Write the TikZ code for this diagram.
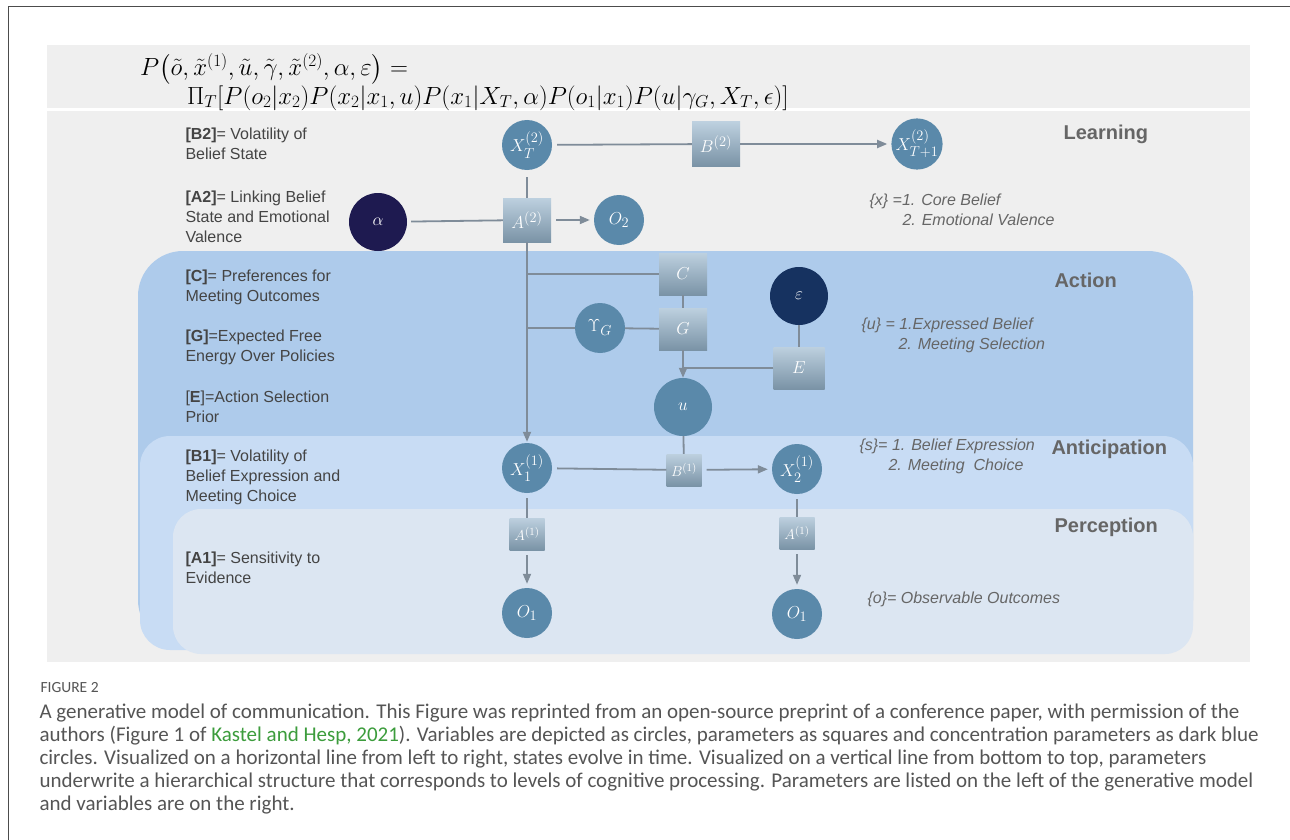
\documentclass[tikz,border=0pt]{standalone}
\usepackage[no-math]{fontspec}
\setmainfont{Liberation Sans}
\newfontfamily\captionfont{Carlito}
\usepackage{amsmath}
\usetikzlibrary{arrows.meta}

\definecolor{panelgray}{HTML}{EFEFEF}
\definecolor{actionblue}{HTML}{AECBEB}
\definecolor{anticblue}{HTML}{C8DCF4}
\definecolor{percblue}{HTML}{DCE6F2}
\definecolor{nodeblue}{HTML}{5A89AA}
\definecolor{alphanavy}{HTML}{1E1A50}
\definecolor{epsnavy}{HTML}{163260}
\definecolor{linegray}{HTML}{7F8C99}
\definecolor{sqtop}{HTML}{BDD0DF}
\definecolor{sqbot}{HTML}{7A93A6}
\definecolor{textgray}{HTML}{444444}
\definecolor{notegray}{HTML}{666666}
\definecolor{capgray}{HTML}{555555}
\definecolor{refgreen}{HTML}{3C9C3C}

\begin{document}
\begin{tikzpicture}[x=1pt,y=-1pt,
    var/.style={circle, fill=nodeblue, text=white, minimum size=50pt, inner sep=0pt, font=\fontsize{19}{21}\selectfont},
    conc/.style={var, minimum size=58pt},
    param/.style={rectangle, top color=sqtop, bottom color=sqbot, text=white, minimum width=48pt, minimum height=44pt, inner sep=0pt, font=\fontsize{19}{21}\selectfont},
    smallparam/.style={param, minimum width=35pt, minimum height=32pt, font=\fontsize{15}{17}\selectfont},
    link/.style={draw=linegray, line width=1.8pt},
    arr/.style={link, -{Triangle[length=10pt,width=8pt]}},
    legend/.style={anchor=west, align=left, text=textgray, font=\fontsize{16}{20}\selectfont},
    varnote/.style={anchor=west, align=left, text=notegray, font=\fontsize{16}{20}\selectfont\itshape},
    level/.style={anchor=west, text=notegray, font=\fontsize{20}{24}\selectfont\bfseries}]
  \useasboundingbox (0,0) rectangle (1290,840);
  \fill[white] (0,0) rectangle (1290,840);
  \draw[line width=1pt, black!70] (8,840) -- (8,7) -- (1290,7);

  % panels and levels
  \fill[panelgray] (47,45) rectangle (1250,108);
  \fill[panelgray] (47,111) rectangle (1250,662);
  \fill[actionblue, rounded corners=45pt] (138,251) rectangle (1193,645);
  \fill[anticblue, rounded corners=30pt] (140,436) rectangle (1193,650);
  \fill[percblue, rounded corners=28pt] (173,509) rectangle (1193,654);

  % joint distribution
  \node[anchor=west, align=left, inner sep=0pt, font=\fontsize{23.5}{27}\selectfont] (eq) at (140,82)
    {$P\bigl(\tilde o,\tilde x^{(1)},\tilde u,\tilde\gamma,\tilde x^{(2)},\alpha,\varepsilon\bigr) =$\\
     \hspace*{47pt}$\Pi_T[P(o_2|x_2)P(x_2|x_1,u)P(x_1|X_T,\alpha)P(o_1|x_1)P(u|\gamma_G,X_T,\epsilon)]$};

  % learning
  \node[var] (XT2) at (527,145) {$X_T^{(2)}$};
  \node[param] (B2) at (716,144) {$B^{(2)}$};
  \node[var, minimum size=47pt] (XT1) at (917,144) {$X_{T+1}^{(2)}$};
  \node[conc, fill=alphanavy] (alpha) at (378,222) {$\alpha$};
  \node[param] (A2) at (527,220) {$A^{(2)}$};
  \node[var] (O2) at (619,220) {$O_2$};

  % action
  \node[param, minimum height=42pt] (C) at (683,274) {$C$};
  \node[param, minimum height=42pt] (G) at (683,329) {$G$};
  \node[var] (gG) at (600,328) {$\Upsilon_G$};
  \node[conc, fill=epsnavy] (eps) at (799,296) {$\varepsilon$};
  \node[param, minimum height=42pt, minimum width=51pt] (E) at (799,368) {$E$};
  \node[conc] (u) at (683,407) {$u$};

  % anticipation and perception
  \node[var] (X11) at (527,468) {$X_1^{(1)}$};
  \node[smallparam] (B1) at (684,470) {$B^{(1)}$};
  \node[var] (X21) at (797,469) {$X_2^{(1)}$};
  \node[smallparam] (A1L) at (527,534) {$A^{(1)}$};
  \node[smallparam] (A1R) at (797,533) {$A^{(1)}$};
  \node[var] (O1L) at (527,613) {$O_1$};
  \node[var] (O1R) at (797,614) {$O_1$};

  % connectors
  \draw[link, shorten <=5pt] (XT2) -- (B2);
  \draw[arr, shorten >=4pt] (B2) -- (XT1);
  \draw[link, shorten <=7pt] (XT2) -- (A2);
  \draw[link, shorten <=4pt] (alpha) -- (A2);
  \draw[arr, shorten <=5pt, shorten >=4pt] (A2) -- (O2);
  \draw[arr, shorten >=1pt] (A2) -- (X11);
  \draw[link] (C.west -| X11) -- (C.west);
  \draw[link] (gG.west -| X11) -- (gG);
  \draw[link] (gG) -- (G);
  \draw[link] (C) -- (G);
  \draw[arr] (G) -- (u);
  \draw[link] (E.west) -- (E.west -| u);
  \draw[link] (eps) -- (E);
  \draw[link] (u) -- (B1);
  \draw[link, shorten <=5pt] (X11) -- (B1);
  \draw[arr, shorten <=5pt, shorten >=4pt] (B1) -- (X21);
  \draw[link, shorten <=5pt] (X11) -- (A1L);
  \draw[arr, shorten <=5pt, shorten >=4pt] (A1L) -- (O1L);
  \draw[link, shorten <=5pt] (X21) -- (A1R);
  \draw[arr, shorten <=5pt, shorten >=4pt] (A1R) -- (O1R);

  % parameter legend
  \node[legend] (legB2) at (182,144) {\textbf{[B2]}= Volatility of\\Belief State};
  \node[legend] (legA2) at (182,217) {\textbf{[A2]}= Linking Belief\\State and Emotional\\Valence};
  \node[legend] (legC) at (182,287) {\textbf{[C]}= Preferences for\\Meeting Outcomes};
  \node[legend] (legG) at (182,347) {\textbf{[G]}=Expected Free\\Energy Over Policies};
  \node[legend] (legE) at (182,407) {[\textbf{E}]=Action Selection\\Prior};
  \node[legend] (legB1) at (182,477) {\textbf{[B1]}= Volatility of\\Belief Expression and\\Meeting Choice};
  \node[legend] (legA1) at (182,568) {\textbf{[A1]}= Sensitivity to\\Evidence};

  % levels and variables
  \node[level] (lLearn) at (1060,134) {Learning};
  \node[level] (lAction) at (1051,280) {Action};
  \node[level] (lAntic) at (1048,449) {Anticipation};
  \node[level] (lPerc) at (1051,527) {Perception};
  \node[varnote] (nx) at (866,210) {\{x\} =1. Core Belief\\\hspace*{33pt}2. Emotional Valence};
  \node[varnote] (nu) at (858,335) {\{u\} = 1.Expressed Belief\\\hspace*{37pt}2. Meeting Selection};
  \node[varnote] (ns) at (856,456) {\{s\}= 1. Belief Expression\\\hspace*{29pt}2. Meeting\ \ Choice};
  \node[varnote] (no) at (864,599) {\{o\}= Observable Outcomes};

  % caption
  \node[anchor=west, text=capgray, font=\captionfont\fontsize{15.5}{18}\selectfont] (capHead) at (37,688) {FIGURE 2};
  \node[anchor=west, align=left, text=capgray, font=\captionfont\fontsize{21}{23}\selectfont] (capText) at (36,759)
    {A generative model of communication. This Figure was reprinted from an open-source preprint of a conference paper, with permission of the\\
     authors (Figure 1 of \textcolor{refgreen}{Kastel and Hesp, 2021}). Variables are depicted as circles, parameters as squares and concentration parameters as dark blue\\
     circles. Visualized on a horizontal line from left to right, states evolve in time. Visualized on a vertical line from bottom to top, parameters\\
     underwrite a hierarchical structure that corresponds to levels of cognitive processing. Parameters are listed on the left of the generative model\\
     and variables are on the right.};
\end{tikzpicture}
\end{document}
